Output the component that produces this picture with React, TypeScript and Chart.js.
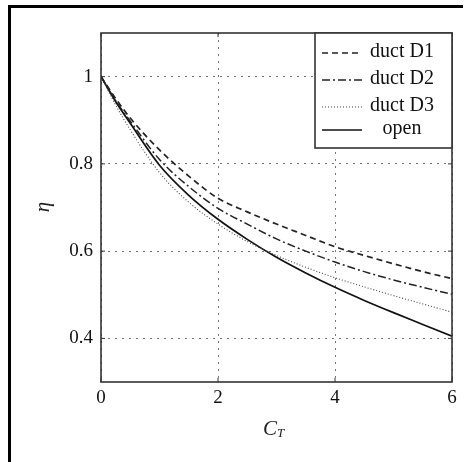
import React, { useEffect, useRef } from "react";
import { Chart, registerables } from "chart.js";

Chart.register(...registerables);

const ctValues = [0, 0.25, 0.5, 1, 1.5, 2, 2.5, 3, 3.5, 4, 4.5, 5, 5.5, 6];
const ductD1 = [1, 0.95, 0.905, 0.832, 0.772, 0.721, 0.69, 0.662, 0.636, 0.61, 0.59, 0.571, 0.553, 0.537];
const ductD2 = [1, 0.945, 0.898, 0.81, 0.748, 0.698, 0.662, 0.628, 0.6, 0.575, 0.553, 0.534, 0.517, 0.501];
const ductD3 = [1, 0.935, 0.878, 0.78, 0.712, 0.662, 0.622, 0.59, 0.563, 0.539, 0.518, 0.498, 0.479, 0.46];
const openRotor = [1, 0.943, 0.893, 0.797, 0.728, 0.673, 0.627, 0.586, 0.55, 0.517, 0.487, 0.459, 0.432, 0.405];

const xTicks = [0, 2, 4, 6];
const yTicks = [0.4, 0.6, 0.8, 1];
const seriesLabels = ["duct D1", "duct D2", "duct D3", "open"];

const SERIF = "'Liberation Serif', 'DejaVu Serif', serif";

const styles = [
  { dash: [6, 4], width: 1.7, color: "#222" },
  { dash: [8, 3, 2, 3], width: 1.5, color: "#222" },
  { dash: [1, 2], width: 1.1, color: "#444" },
  { dash: [], width: 1.7, color: "#111" },
];

const overlay = {
  id: "overlay",
  afterDraw(chart: any) {
    const { ctx, chartArea: a, scales } = chart;
    ctx.save();
    // frame
    ctx.strokeStyle = "#333";
    ctx.lineWidth = 1.6;
    ctx.setLineDash([]);
    ctx.strokeRect(a.left, a.top, a.right - a.left, a.bottom - a.top);
    // tick marks inward
    ctx.lineWidth = 1;
    ctx.beginPath();
    for (const v of yTicks) {
      const y = scales.y.getPixelForValue(v);
      ctx.moveTo(a.left, y);
      ctx.lineTo(a.left + 4, y);
      ctx.moveTo(a.right, y);
      ctx.lineTo(a.right - 4, y);
    }
    for (const v of xTicks) {
      const x = scales.x.getPixelForValue(v);
      ctx.moveTo(x, a.bottom);
      ctx.lineTo(x, a.bottom - 4);
      ctx.moveTo(x, a.top);
      ctx.lineTo(x, a.top + 4);
    }
    ctx.stroke();

    // legend
    const lx = 315, ly = a.top, lw = a.right - 315, lh = 115;
    ctx.fillStyle = "#fff";
    ctx.fillRect(lx, ly, lw, lh);
    ctx.strokeStyle = "#333";
    ctx.lineWidth = 1.6;
    ctx.strokeRect(lx, ly, lw, lh);
    const rows = [20, 47, 74, 97];
    seriesLabels.forEach((lab, i) => {
      const y = ly + rows[i];
      const st = styles[i];
      ctx.strokeStyle = st.color;
      ctx.lineWidth = st.width;
      ctx.setLineDash(st.dash);
      ctx.beginPath();
      ctx.moveTo(322, y);
      ctx.lineTo(362, y);
      ctx.stroke();
      ctx.setLineDash([]);
      ctx.fillStyle = "#111";
      ctx.font = `20px ${SERIF}`;
      ctx.textAlign = "center";
      ctx.textBaseline = "middle";
      ctx.fillText(lab, 402, y - 1);
    });

    // axis titles
    ctx.fillStyle = "#222";
    ctx.textBaseline = "middle";
    ctx.textAlign = "left";
    ctx.font = `italic 21px ${SERIF}`;
    ctx.fillText("C", 263, 429);
    ctx.font = `italic 13px ${SERIF}`;
    ctx.fillText("T", 277, 434);

    ctx.translate(43, 207);
    ctx.rotate(-Math.PI / 2);
    ctx.textAlign = "center";
    ctx.font = `italic 21px ${SERIF}`;
    ctx.fillText("η", 0, 0);
    ctx.restore();
  },
};

export default function App() {
  const ref = useRef<HTMLCanvasElement>(null);
  useEffect(() => {
    if (!ref.current) return;
    const mk = (arr: number[]) => ctValues.map((x, i) => ({ x, y: arr[i] }));
    const all = [ductD1, ductD2, ductD3, openRotor];
    const chart = new Chart(ref.current, {
      type: "line",
      data: {
        datasets: all.map((arr, i) => ({
          label: seriesLabels[i],
          data: mk(arr),
          borderColor: styles[i].color,
          borderWidth: styles[i].width,
          borderDash: styles[i].dash,
          pointRadius: 0,
          fill: false,
          cubicInterpolationMode: "monotone" as const,
        })),
      },
      options: {
        responsive: false,
        animation: false,
        layout: { padding: { top: 33, right: 18, left: 0, bottom: 0 } },
        plugins: { legend: { display: false }, tooltip: { enabled: false } },
        scales: {
          x: {
            type: "linear",
            min: 0,
            max: 6,
            afterBuildTicks: (s: any) => {
              s.ticks = xTicks.map((v) => ({ value: v }));
            },
            afterFit: (s: any) => {
              s.height = 80;
            },
            ticks: {
              font: { family: SERIF, size: 19 },
              color: "#111",
              padding: 5,
              maxRotation: 0,
              callback: (v: any) => String(v),
            },
            grid: { color: "#777", lineWidth: 1, drawTicks: false },
            border: { display: false, dash: [2, 5] },
          },
          y: {
            type: "linear",
            min: 0.3,
            max: 1.1,
            afterBuildTicks: (s: any) => {
              s.ticks = yTicks.map((v) => ({ value: v }));
            },
            afterFit: (s: any) => {
              s.width = 101;
            },
            ticks: {
              font: { family: SERIF, size: 19 },
              color: "#111",
              padding: 8,
              callback: (v: any) => String(Math.round(v * 10) / 10),
            },
            grid: { color: "#777", lineWidth: 1, drawTicks: false },
            border: { display: false, dash: [2, 5] },
          },
        },
      },
      plugins: [overlay],
    });
    return () => chart.destroy();
  }, []);
  return (
    <div style={{ position: "fixed", left: 0, top: 0, width: 470, height: 462, background: "#fff", overflow: "hidden" }}>
      <div
        style={{
          position: "absolute",
          left: 8,
          top: 5,
          width: 455,
          height: 470,
          borderTop: "3px solid #000",
          borderLeft: "3px solid #000",
          boxSizing: "border-box",
        }}
      />
      <canvas ref={ref} width={470} height={462} style={{ position: "absolute", left: 0, top: 0 }} />
    </div>
  );
}
